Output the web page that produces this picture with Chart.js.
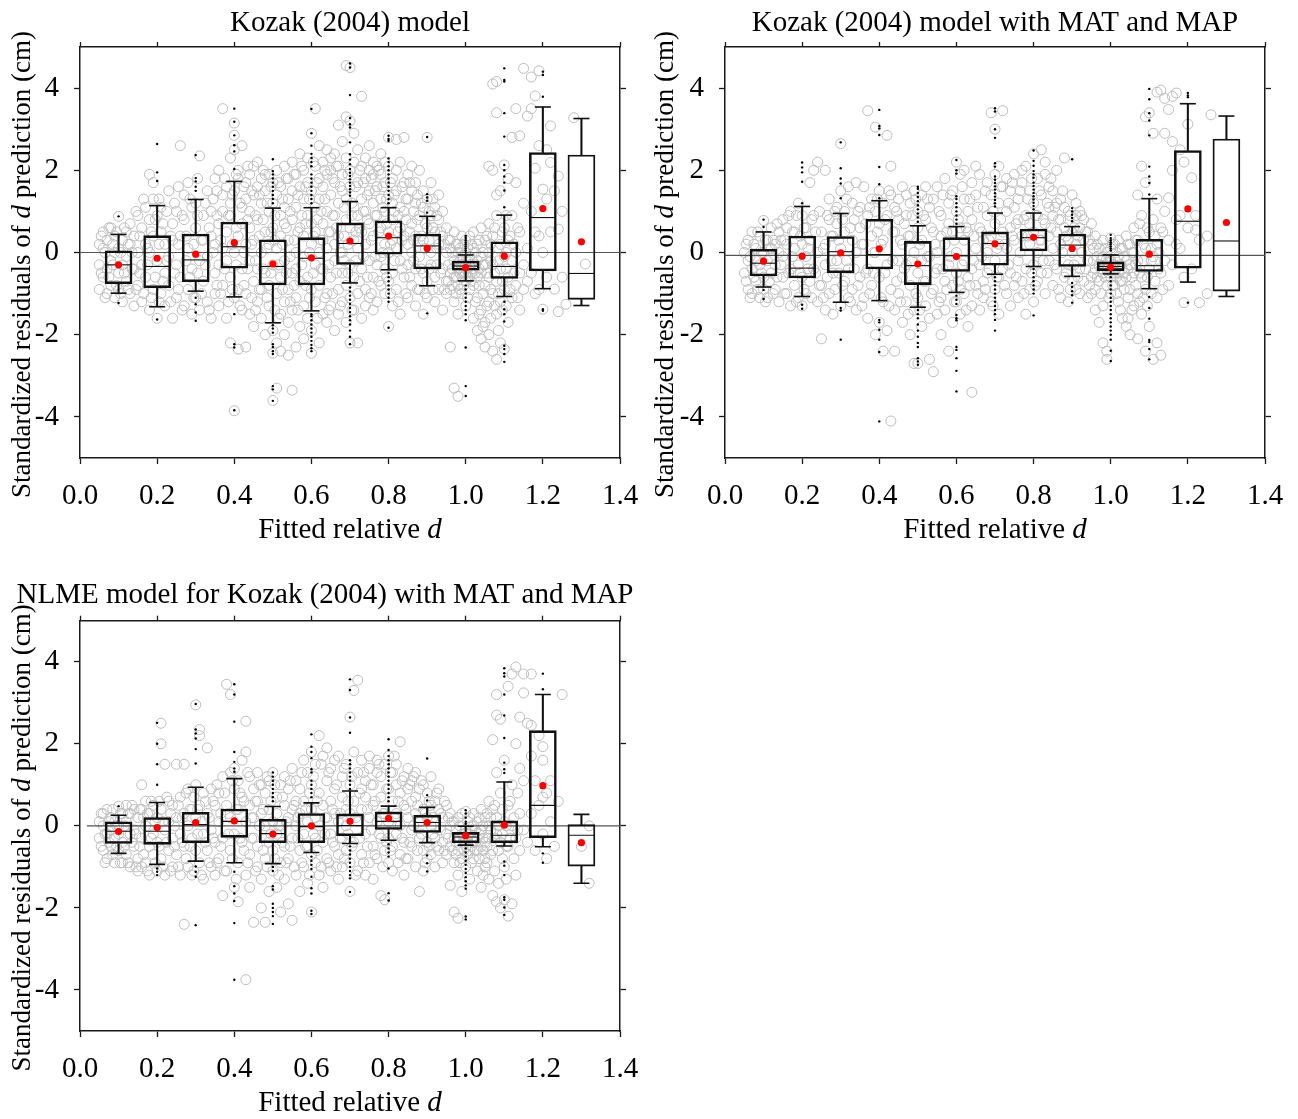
<!DOCTYPE html>
<html>
<head>
<meta charset="utf-8">
<script src="https://cdn.jsdelivr.net/npm/chart.js@4.4.1/dist/chart.umd.min.js"></script>
<style>
  body { margin: 0; background: #fff; }
  canvas { position: absolute; }
</style>
</head>
<body>
<canvas id="c1" width="640" height="550" style="left:0;top:0"></canvas>
<canvas id="c2" width="653" height="550" style="left:645px;top:0"></canvas>
<canvas id="c3" width="650" height="549" style="left:0;top:570px"></canvas>
<script>
// bin centres of the box plots and the axis ticks
const bins = [0.1, 0.2, 0.3, 0.4, 0.5, 0.6, 0.7, 0.8, 0.9, 1.0, 1.1, 1.2, 1.3];
const xTicks = [0, 0.2, 0.4, 0.6, 0.8, 1.0, 1.2, 1.4];
const yTicks = [-4, -2, 0, 2, 4];

// ---- panel 1: Kozak (2004) model ----
const p1Lo   = [-0.99, -1.32, -0.94, -1.08, -1.71, -1.42, -0.74, -0.42, -0.81, -0.69, -1.07, -0.88, -1.29];
const p1Q1   = [-0.76, -0.86, -0.71, -0.38, -0.79, -0.79, -0.29, -0.04, -0.40, -0.43, -0.63, -0.45, -1.14];
const p1Med  = [-0.30, -0.34, -0.18, 0.14, -0.34, -0.14, 0.22, 0.36, 0.16, -0.33, -0.34, 0.85, -0.51];
const p1Q3   = [0.04, 0.41, 0.45, 0.74, 0.31, 0.36, 0.72, 0.77, 0.45, -0.21, 0.26, 2.43, 2.37];
const p1Hi   = [0.44, 1.14, 1.29, 1.73, 1.08, 1.09, 1.24, 1.09, 0.88, -0.06, 0.91, 3.54, 3.26];
const p1Mean = [-0.30, -0.14, -0.04, 0.24, -0.28, -0.13, 0.28, 0.40, 0.10, -0.37, -0.09, 1.07, 0.26];
const p1Out = [
  [0.88, -1.23],
  [2.64, 1.95, 1.74, -1.63],
  [2.37, 1.81, 1.73, 1.6, 1.5, -1.1, -1.26, -1.46, -1.66],
  [3.5, 3.18, 2.85, 2.61, 2.46, 2.03, -1.5, -2.23, -2.31, -3.84],
  [2.27, 1.98, 1.9, 1.8, 1.7, 1.6, 1.5, 1.4, 1.3, 1.2, -1.77, -1.85, -1.95, -2.23, -2.3, -2.4, -2.47, -3.25, -3.33, -3.61],
  [3.49, 2.9, 2.6, 2.4, 2.3, 2.2, 2.1, 1.9, 1.8, 1.7, 1.6, 1.5, 1.4, 1.3, 1.2, -1.5, -1.55, -1.65, -1.75, -1.85, -1.95, -2.05, -2.15, -2.25, -2.33, -2.4],
  [4.6, 4.5, 3.83, 3.27, 3.12, 3.04, 2.68, 2.39, 2.26, 2.15, 2.03, 1.94, 1.86, 1.78, 1.7, 1.62, 1.54, 1.46, 1.38, -0.85, -0.95, -1.05, -1.15, -1.25, -1.35, -1.45, -1.55, -1.65, -1.75, -1.9, -2.05, -2.23],
  [2.84, 2.76, 2.72, 2.29, 2.2, 2.1, 2.0, 1.9, 1.8, 1.7, 1.6, 1.5, 1.4, 1.3, 1.2, -0.5, -0.6, -0.7, -0.8, -0.9, -1.0, -1.1, -1.2, -1.83],
  [2.81, 1.42, 1.34, 1.26, 0.97, -1.48],
  [0.4, 0.35, 0.3, 0.25, 0.2, 0.15, 0.1, 0.05, 0.0, -0.8, -0.9, -1.0, -1.1, -1.2, -1.3, -1.4, -1.5, -1.65, -2.31, -3.25, -3.49],
  [4.48, 4.2, 4.16, 3.39, 2.82, 2.13, 2.0, 1.85, 1.7, 1.51, 1.1, -1.2, -1.38, -1.5, -1.68, -2.27, -2.35, -2.47, -2.66],
  [4.4, 4.32, 3.79, -1.38, -1.42],
  []
];
// residual circles, one column per fitted value: [x, y, y, ...]
const p1Cols = [
  [0.05,-0.9,-0.3,0.2],[0.06,-0.6,0.1,0.5],[0.07,-1.0,-0.4,0.3],[0.08,-0.2,0.6,-0.8],[0.09,-1.1,0.0,0.4],
  [0.10,0.88,-0.5,0.1,-0.9],[0.11,-0.3,0.3,-1.2],[0.12,-0.7,0.5,-0.1],[0.13,-1.0,0.2,0.7],[0.14,-0.4,-1.3,0.4],
  [0.15,0.0,-0.8,0.9],[0.16,-1.2,0.6,-0.3],[0.17,1.1,-0.6,0.2],[0.18,-1.4,0.0,0.8,1.9],[0.19,-0.9,0.4,1.3,1.7],
  [0.20,-0.2,-1.6,0.9],[0.21,0.5,-1.0,1.1],[0.22,-0.5,0.2,-1.3],[0.23,1.5,-0.1,-0.8],[0.24,0.7,-1.6,0.3],
  [0.25,-1.1,1.0,-0.3],[0.26,2.6,0.4,-0.6],[0.27,-1.3,0.8,1.4],[0.28,0.1,-0.9,1.7],[0.29,-0.4,1.1,-1.5],
  [0.30,0.6,-1.1,1.2],[0.31,2.35,-0.2,-1.4],[0.32,0.9,-0.7,0.3],[0.33,1.5,-1.2,-0.1],[0.34,0.4,-1.6,1.0],
  [0.35,1.8,-0.5,-1.0,0.2],[0.36,2.0,0.7,-1.3,-0.3],[0.37,1.4,-0.8,0.1,1.0,3.5],[0.38,-1.6,0.5,1.6,-0.2],
  [0.39,2.3,1.2,-2.2,-0.6,0.9],[0.40,-3.85,3.15,2.85,2.5,0.0,-1.1,1.5],[0.41,-2.35,1.8,0.4,-0.9,2.0],
  [0.42,2.6,1.1,-0.4,-1.4,0.7],[0.43,-2.3,1.7,0.2,-1.0,1.3],[0.44,-1.5,0.6,1.9,-0.2,1.0],
  [0.45,2.1,-0.7,0.3,-1.8,1.4],[0.46,1.6,-1.2,0.8,-0.4,2.2],[0.47,0.0,-1.6,1.2,1.8,-0.9],
  [0.48,-2.0,0.5,1.5,-0.5,1.9],[0.49,1.9,-1.3,0.2,-0.8,1.0],[0.50,-3.6,-2.45,1.7,0.6,-0.3,-1.9,1.2],
  [0.51,-3.3,-2.2,2.0,-1.0,0.1,1.4],[0.52,-2.4,1.6,-0.6,0.9,-1.5,0.4],[0.53,2.1,-2.0,1.1,-0.2,-1.2,0.7],
  [0.54,-2.5,1.8,0.3,-0.9,1.3,-1.7],[0.55,-3.35,2.2,-0.5,0.8,-1.4,1.5],[0.56,-2.3,1.9,0.0,-1.1,1.1,-0.4],
  [0.57,2.4,-1.8,0.6,-0.7,1.6],[0.58,-2.1,1.3,-0.1,2.0,-1.3,0.4],[0.59,2.3,-0.6,0.9,-1.6,1.7],
  [0.60,-2.45,2.9,1.5,0.2,-0.9,-1.9,0.7],[0.61,3.5,2.1,-0.3,1.1,-1.2,0.5],[0.62,2.6,-2.2,1.8,0.0,-0.8,1.3],
  [0.63,2.2,-1.5,0.7,-0.4,1.6,0.3],[0.64,2.5,-1.0,1.9,0.1,-1.7,1.0],[0.65,2.0,-0.6,1.4,0.5,-1.3,2.3],
  [0.66,2.4,-1.9,0.9,-0.2,1.7,0.2],[0.67,3.1,1.2,-0.9,0.4,2.1,-1.5],[0.68,2.7,-0.5,1.5,0.0,-1.2,1.9],
  [0.69,4.55,3.3,2.3,0.8,-0.8,1.3,-1.7],[0.70,4.5,3.2,2.0,0.6,-0.3,-1.1,1.6,-2.2],[0.71,2.9,1.1,-0.6,0.3,2.2,-1.4],
  [0.72,2.5,-2.2,1.7,0.1,-1.0,0.9],[0.73,3.8,2.1,-0.4,1.3,0.5,-1.6],[0.74,2.3,1.8,-0.9,0.2,1.0,-1.3],
  [0.75,2.6,-0.2,1.5,0.7,-1.1,2.0],[0.76,1.9,-1.4,0.4,1.2,-0.6,2.2],[0.77,2.1,0.9,-0.3,1.6,-1.2],
  [0.78,2.4,-0.8,0.6,1.3,-0.1,1.9],[0.79,1.7,-1.0,0.2,1.0,2.2,-0.4],[0.80,2.8,2.1,-1.8,0.5,1.4,-0.7,0.0],
  [0.81,1.8,-1.3,0.8,0.3,1.2,-0.5],[0.82,2.75,2.0,0.1,-0.9,1.5],[0.83,2.2,-0.2,0.6,1.1,-1.5],
  [0.84,2.8,1.7,-0.6,0.4,1.0],[0.85,1.9,-1.1,0.2,1.3,-0.3],[0.86,1.5,-0.8,0.7,0.0,2.1],
  [0.87,1.2,-1.3,0.4,-0.4,1.7],[0.88,2.0,-0.1,0.9,-0.9],[0.89,1.5,-1.5,0.3,-0.5,1.1],
  [0.90,2.8,1.3,-0.7,0.6,-1.1],[0.91,1.7,0.0,-0.3,0.9],[0.92,1.1,-1.2,0.5,-0.6],[0.93,0.8,-0.9,0.2,1.4],
  [0.94,0.4,-0.4,-1.4,1.0],[0.95,0.6,-0.7,0.0,-1.0],[0.96,-2.3,0.3,-0.5,-0.9,0.1],[0.97,-3.3,0.5,-0.2,-0.6,-1.2],
  [0.98,-3.5,0.2,-0.4,-0.8,0.0,-1.5],[0.99,0.4,-0.3,-0.1,-0.6,-1.0],[1.00,0.3,-0.2,-0.4,-0.5,0.0,-0.7,-1.3],
  [1.01,0.4,-0.3,-0.1,-0.6,-0.9],[1.02,0.5,0.1,-0.4,-0.8,-1.6],[1.03,0.2,-0.2,-0.6,-1.1,-1.9],
  [1.04,0.6,-0.1,-0.5,-1.4,-2.1],[1.05,0.3,-0.3,-0.8,-1.7,-2.3],[1.06,2.1,0.7,0.0,-0.6,-1.2,-2.0],
  [1.07,4.1,2.0,0.4,-0.3,-1.0,-2.4],[1.08,4.16,3.4,1.4,0.9,-0.7,-1.5,-2.6],[1.09,1.5,0.2,-0.4,-2.2,-1.2],
  [1.10,2.13,0.6,-0.1,-0.9,-2.35],[1.11,1.8,0.3,-0.6,-1.7],[1.12,2.8,0.9,-0.2,-1.1],[1.13,3.5,1.7,0.0,-0.8],
  [1.14,2.84,0.5,-0.5,-1.4],[1.15,4.48,1.2,-0.3,-0.9],[1.16,3.32,0.1,-0.7],[1.17,4.27,3.5,1.0,-0.5],
  [1.18,3.81,2.05,0.5,-1.0],[1.19,4.42,2.6,0.4,-0.9],[1.20,1.54,-1.38,0.0],[1.21,2.5,1.3,-0.6],
  [1.22,3.08,2.19,0.5],[1.23,-0.89,1.5],[1.24,1.86,0.57,-1.44],[1.25,-0.6,1.0],[1.26,-1.26],[1.28,3.28],[1.31,-0.28]
];
// denser core of the same cloud, between the columns above
const p1Core = [
  [0.055,-0.5,0.4],[0.065,-1.1,0.0],[0.075,0.6,-0.6],[0.085,-0.3,0.2],[0.095,-0.8,0.5],
  [0.105,0.0,-1.0],[0.115,0.6,-0.5],[0.125,-0.9,0.2],[0.135,0.0,-0.4],[0.145,1.0,-0.9],
  [0.155,-0.5,0.4],[0.165,-1.0,1.3],[0.175,0.1,-0.3],[0.185,-1.1,0.5],[0.195,0.8,-0.6],
  [0.205,0.2,-1.2,1.3],[0.215,-0.7,0.7],[0.225,1.0,-0.2],[0.235,-1.2,0.4],[0.245,1.2,-0.5],
  [0.255,-0.9,0.2,1.6],[0.265,0.9,-1.4],[0.275,-0.2,0.4],[0.285,1.3,-0.6],[0.295,0.2,-1.1],
  [0.305,-0.5,0.9,1.8],[0.315,0.3,-1.0],[0.325,1.2,-0.3],[0.335,-1.4,0.6],[0.345,0.0,1.3],
  [0.355,-0.8,0.9,1.5],[0.365,0.3,-1.0],[0.375,-0.4,1.8],[0.385,0.9,-1.2],[0.395,0.2,-0.9,1.4],
  [0.405,0.6,-0.3,1.9],[0.415,-1.3,1.2],[0.425,0.0,1.6,-0.8],[0.435,0.8,-0.4,2.1],[0.445,-1.1,0.2,1.5],
  [0.455,0.9,-0.2,-1.4],[0.465,0.4,1.4,-0.9],[0.475,-0.4,0.8,2.0],[0.485,-1.1,0.1,1.2],[0.495,0.5,-0.5,1.6],
  [0.505,-1.4,0.3,0.9],[0.515,-0.3,1.7,-1.6],[0.525,0.2,-0.9,1.3],[0.535,0.6,-0.5,1.8],[0.545,-1.2,-0.1,1.0],
  [0.555,0.3,1.9,-0.8],[0.565,-1.4,0.5,1.4],[0.575,-0.3,0.9,2.1],[0.585,0.7,-0.8,1.6],[0.595,-1.1,0.0,1.3],
  [0.605,0.4,-0.5,2.2],[0.615,-1.6,0.8,1.7],[0.625,0.3,-0.4,1.0],[0.635,-1.1,1.3,2.0],[0.645,0.5,-0.3,-1.4],
  [0.655,0.9,-1.0,1.8],[0.665,-0.5,0.6,2.1],[0.675,0.0,-1.3,1.6],[0.685,0.4,-0.2,1.1],[0.695,1.9,-0.5,0.2],
  [0.705,1.2,-1.4,0.9],[0.715,-0.2,1.6,0.5],[0.725,0.6,-0.7,2.0],[0.735,1.0,-0.1,1.7],[0.745,-0.6,0.8,1.4],
  [0.755,0.3,-1.0,1.8],[0.765,0.9,-0.1,1.5],[0.775,-0.7,0.5,2.0],[0.785,1.1,0.0,1.6],[0.795,-0.6,0.7,1.3],
  [0.805,0.2,-1.0,1.7],[0.815,1.0,-0.2,1.4],[0.825,0.5,-1.2,0.9],[0.835,1.6,-0.4,0.3],[0.845,0.8,-1.0,1.3],
  [0.855,0.5,-0.6,1.7],[0.865,-0.2,1.0,0.3],[0.875,0.8,-0.9,1.4],[0.885,0.4,-0.4,1.2],[0.895,-1.0,0.1,0.7],
  [0.905,0.3,-0.4,1.0],[0.915,-0.9,0.6,1.3],[0.925,0.1,-0.3,0.9],[0.935,-0.5,0.5],[0.945,-0.9,0.2],
  [0.955,-0.3,0.3,-0.7],[0.965,0.0,-0.4,-0.8],[0.975,0.2,-0.3,-0.6,-1.0],[0.985,0.1,-0.5,-0.2,-0.9],[0.995,0.2,-0.3,-0.5,-0.8],
  [1.005,0.1,-0.2,-0.4,-0.6,-1.1],[1.015,0.2,-0.3,-0.5,-0.7],[1.025,0.0,-0.3,-0.5,-1.2],[1.035,0.3,-0.4,-0.8,-1.5],[1.045,0.0,-0.3,-1.0,-1.8],
  [1.055,0.4,-0.5,-1.3],[1.065,-0.2,0.2,-0.9,-1.6],[1.075,0.6,-0.5,-1.3],[1.085,0.1,-0.2,-1.0,-1.9],[1.095,0.5,-0.7,-1.4],
  [1.105,0.9,0.0,-0.4,-1.3],[1.115,0.4,-0.9],[1.125,-0.5,0.2],[1.135,0.6,-1.1]
];

// ---- panel 2: Kozak (2004) model with MAT and MAP ----
const p2Lo   = [-0.84, -1.07, -1.21, -1.17, -1.33, -0.97, -0.53, -0.34, -0.58, -0.52, -0.88, -0.72, -1.07];
const p2Q1   = [-0.57, -0.62, -0.49, -0.40, -0.78, -0.46, -0.31, 0.04, -0.34, -0.44, -0.46, -0.38, -0.94];
const p2Med  = [-0.26, -0.38, 0.02, -0.05, -0.32, -0.08, 0.22, 0.36, 0.18, -0.34, -0.32, 0.76, 0.28];
const p2Q3   = [0.08, 0.40, 0.39, 0.81, 0.27, 0.36, 0.50, 0.57, 0.45, -0.23, 0.32, 2.48, 2.76];
const p2Hi   = [0.50, 1.12, 0.95, 1.26, 0.65, 0.63, 0.96, 0.96, 0.63, -0.06, 1.31, 3.62, 3.32];
const p2Mean = [-0.21, -0.09, -0.01, 0.09, -0.28, -0.10, 0.21, 0.37, 0.10, -0.36, -0.04, 1.06, 0.73];
const p2Out = [
  [0.8, 0.62, -0.91, -1.13],
  [2.19, 2.07, 1.95, 1.72, 1.2, -1.27, -1.37],
  [2.68, 2.05, 1.8, 1.68, 1.32, -1.35, -1.41, -2.12],
  [3.47, 3.08, 3.02, 2.86, 2.08, 1.66, 1.32, -1.64, -1.7, -1.88, -2.12, -2.42, -4.11],
  [1.6, 1.55, 1.45, 1.35, 1.25, 1.15, 1.05, 0.95, 0.85, 0.75, -1.4, -1.5, -1.6, -1.75, -1.9, -2.05, -2.2, -2.3, -2.57, -2.65, -2.73],
  [2.25, 2.0, 1.92, 1.37, 1.3, 1.2, 1.1, 1.0, 0.9, 0.8, 0.7, -1.05, -1.15, -1.25, -1.52, -1.6, -1.65, -2.3, -2.37, -2.57, -2.88, -3.38],
  [3.51, 3.43, 3.0, 2.79, 2.17, 2.09, 1.85, 1.77, 1.69, 1.61, 1.53, 1.44, 1.36, 1.28, 1.2, 1.12, -0.6, -0.7, -0.8, -0.9, -1.0, -1.1, -1.2, -1.3, -1.4, -1.5, -1.64, -1.9],
  [2.48, 2.23, 2.11, 1.98, 1.9, 1.82, 1.7, 1.62, 1.53, 1.45, 1.37, 1.29, 1.21, 1.13, 1.05, -0.4, -0.5, -0.6, -0.7, -0.8, -0.9, -1.0, -1.53],
  [2.27, 1.08, 1.0, 0.92, 0.84, 0.76, -0.74, -0.84, -0.94, -1.04, -1.22],
  [0.43, 0.35, 0.3, 0.25, 0.2, 0.15, 0.1, 0.05, -0.6, -0.7, -0.8, -0.9, -1.0, -1.1, -1.2, -1.3, -1.4, -1.5, -1.6, -1.7, -1.8, -1.9, -2.0, -2.12, -2.39, -2.64],
  [3.98, 3.73, 3.39, 3.21, 2.85, 2.09, 1.85, 1.69, 1.41, -1.08, -1.35, -1.61, -2.13, -2.18, -2.35, -2.6],
  [3.88, 3.82, 3.78, -1.22],
  []
];
const p2Cols = [
  [0.05,-0.5,0.0],[0.06,-0.9,0.3,-0.2],[0.07,-0.4,0.5,-1.0],[0.08,0.1,-0.7,-0.2],[0.09,-1.1,0.4,-0.3],
  [0.10,0.78,-0.6,0.0,-0.9],[0.11,-0.2,0.3,-1.1],[0.12,0.6,-0.5,0.1],[0.13,-0.9,0.2,-0.3],[0.14,0.5,-1.2,0.0],
  [0.15,-0.6,0.8,-0.1],[0.16,0.2,-1.0,0.6],[0.17,-0.4,1.0,-1.3],[0.18,0.1,-0.8,0.5],[0.19,1.2,-0.3,-1.1],
  [0.20,0.9,-0.6,0.2,-1.3],[0.21,-0.1,0.6,-1.0],[0.22,1.7,0.3,-0.7],[0.23,2.0,-0.4,0.9],[0.24,2.2,0.0,-1.2],
  [0.25,-2.1,0.5,-0.8],[0.26,2.0,0.2,-0.3,-1.4],[0.27,0.8,-1.0,1.3],[0.28,-0.5,0.4,-1.5],[0.29,1.1,-0.2,0.7],
  [0.30,2.65,-1.3,0.1,1.5],[0.31,0.5,-0.7,1.0],[0.32,1.6,-0.4,-1.1],[0.33,0.3,-0.9,1.2],[0.34,1.7,0.0,-1.4],
  [0.35,0.6,-0.6,1.1],[0.36,-1.1,0.2,1.6],[0.37,3.45,0.9,-0.4,-1.6],[0.38,1.3,-0.8,0.4],[0.39,3.05,-2.0,0.0,1.0],
  [0.40,-1.7,0.7,-0.6,1.5],[0.41,-2.4,1.2,-1.2,0.3],[0.42,2.85,-0.3,0.9,-1.9],[0.43,-4.1,2.1,1.4,-0.9],
  [0.44,0.5,-1.4,1.1,-2.4],[0.45,1.3,-0.2,0.8,-1.0],[0.46,1.6,-1.7,0.2,-0.6],[0.47,0.9,-1.2,1.4,-0.3],
  [0.48,1.2,-2.0,0.4,-0.8],[0.49,-2.7,1.5,-1.4,0.0],[0.50,-2.7,1.0,-0.5,0.6,-1.1],[0.51,1.4,-1.8,0.3,-0.2],
  [0.52,0.8,-1.3,1.6,-0.7],[0.53,-2.6,1.1,-0.1,-1.6],[0.54,-2.9,0.5,1.3,-0.9],[0.55,1.6,-1.5,0.0,-0.4],
  [0.56,-2.0,0.9,-1.1,0.4],[0.57,1.8,-0.7,0.2,-1.4],[0.58,-2.4,1.2,-0.3,0.7],[0.59,1.5,-1.7,0.5,-0.8],
  [0.60,2.2,-1.2,0.0,1.0,-0.5],[0.61,1.9,-0.9,0.6,-1.5],[0.62,2.0,1.3,-0.2,0.3,-1.0],[0.63,1.0,-1.8,0.5,-0.6],
  [0.64,-3.4,1.7,-0.4,0.8,-1.3],[0.65,1.4,0.1,-0.8,2.1],[0.66,1.9,-1.4,0.6,-0.3],[0.67,1.1,-0.7,0.3,-1.1],
  [0.68,1.7,0.0,-0.5,0.9],[0.69,3.4,1.4,-1.2,0.4],[0.70,3.0,1.9,-0.9,0.7,-0.2],[0.71,2.1,1.2,-0.6,0.2,-1.5],
  [0.72,3.45,1.6,0.5,-0.4],[0.73,1.0,-1.0,0.1,1.8],[0.74,1.5,-0.5,0.6,-1.3],[0.75,1.9,0.3,-0.8,1.1],
  [0.76,1.3,-0.2,0.8,-1.1],[0.77,1.7,-0.7,0.4,2.0],[0.78,2.1,0.9,-0.4,-1.5],[0.79,1.5,0.2,-0.9,0.7],
  [0.80,2.4,1.2,-0.3,0.5,-1.2],[0.81,1.8,0.0,0.9,-0.7],[0.82,2.5,1.4,-0.5,0.3],[0.83,2.2,0.7,-1.0,1.9],
  [0.84,1.1,-0.2,0.4,1.6],[0.85,1.5,-0.8,0.1,0.9],[0.86,2.0,0.5,-0.4,1.2],[0.87,1.3,-1.1,0.2,0.8],
  [0.88,2.3,0.6,-0.6,1.1],[0.89,1.0,-0.3,0.3,-1.2],[0.90,1.4,0.5,-0.7,0.0],[0.91,0.9,-0.9,0.2,1.2],
  [0.92,0.6,-0.4,1.0,-1.0],[0.93,0.3,-0.7,0.8],[0.94,0.5,-0.2,-1.1],[0.95,0.2,-0.6,0.7,-1.0],
  [0.96,0.4,-0.4,-0.9,-1.4],[0.97,0.1,-0.3,-0.7,-1.7],[0.98,0.3,-0.5,-0.1,-1.3,-2.2],[0.99,0.0,-0.4,-0.8,-2.4,-2.6],
  [1.00,0.35,-0.2,-0.4,-0.6,0.1,-1.0],[1.01,0.2,-0.3,-0.5,-0.8],[1.02,0.3,-0.1,-0.5,-1.2],[1.03,0.1,-0.4,-0.7,-1.6],
  [1.04,0.4,-0.2,-0.6,-1.8],[1.05,0.2,-0.3,-0.9,-2.0],[1.06,0.6,0.0,-0.5,-1.3],[1.07,1.4,0.3,-0.2,-1.0,-2.1],
  [1.08,2.1,0.9,-0.6,-1.5],[1.09,3.3,1.7,0.1,-0.9,-2.4],[1.10,3.4,0.5,-0.4,-1.8],[1.11,2.9,0.8,-0.1,-2.6],
  [1.12,3.9,1.3,0.2,-1.1,-2.2],[1.13,3.95,0.6,-0.5,-2.5],[1.14,3.75,2.9,1.0,-0.2],[1.15,3.48,1.33,0.3,-0.8],
  [1.16,3.8,2.7,2.0,-0.3],[1.17,3.88,0.8,0.2],[1.18,0.1,2.5,0.9],[1.19,2.2,-1.22,-0.6],[1.20,3.12,0.6],
  [1.21,1.82,-0.4],[1.22,0.55,0.9],[1.23,-1.22,0.3],[1.25,-1.0,0.4],[1.26,3.35]
];
const p2Core = [
  [0.055,-0.7,0.2],[0.065,-0.1,-1.1],[0.075,0.2,-0.6],[0.085,-0.9,0.5],[0.095,0.0,-0.5],
  [0.105,0.3,-1.2],[0.115,-0.7,0.1],[0.125,-1.0,0.3],[0.135,0.7,-0.6],[0.145,-0.3,0.3],
  [0.155,-1.0,0.3],[0.165,0.9,-0.5],[0.175,-0.1,0.5],[0.185,-1.2,0.9],[0.195,0.4,-0.5],
  [0.205,-0.9,0.6],[0.215,0.1,-0.4],[0.225,-1.1,0.8],[0.235,0.5,-0.5],[0.245,-0.8,1.0],
  [0.255,0.1,-1.1],[0.265,0.9,-0.6],[0.275,-0.2,0.4],[0.285,1.0,-0.9],[0.295,0.3,-0.5],
  [0.305,-0.8,0.8],[0.315,-0.2,1.3],[0.325,0.6,-1.2],[0.335,-0.4,0.8],[0.345,1.0,-0.8],
  [0.355,0.2,-1.3],[0.365,-0.5,0.7],[0.375,1.1,-1.0],[0.385,0.0,-0.5],[0.395,0.5,1.3],
  [0.405,-1.1,0.2],[0.415,0.8,-0.5],[0.425,1.5,-1.3],[0.435,-0.2,0.5],[0.445,1.0,-0.7],
  [0.455,-1.2,0.3],[0.465,0.7,-0.4],[0.475,-1.5,0.4],[0.485,0.9,-0.2],[0.495,-1.0,1.3],
  [0.505,0.2,-1.4],[0.515,0.9,-0.7],[0.525,-0.1,1.3],[0.535,-1.0,0.6],[0.545,0.2,-0.5],
  [0.555,1.0,-1.2],[0.565,-0.4,1.4],[0.575,0.5,-0.9],[0.585,1.4,-0.1],[0.595,-1.2,0.3],
  [0.605,0.8,-0.7],[0.615,-0.3,1.6],[0.625,0.6,-1.4],[0.635,-0.8,1.3],[0.645,0.4,-0.2],
  [0.655,1.1,-1.0],[0.665,-0.1,0.5],[0.675,1.5,-0.9],[0.685,0.3,-0.4],[0.695,1.0,-1.3],
  [0.705,0.1,-0.6],[0.715,1.6,0.8],[0.725,-0.8,0.2],[0.735,1.2,-0.3],[0.745,0.4,1.7],
  [0.755,-0.6,0.7],[0.765,1.5,0.0],[0.775,-1.0,0.8],[0.785,0.4,1.3],[0.795,-0.5,1.8],
  [0.805,0.9,-0.8],[0.815,0.3,1.5],[0.825,-0.2,0.8],[0.835,1.2,-0.5],[0.845,0.6,1.8],
  [0.855,-0.3,1.1],[0.865,0.8,-0.9],[0.875,0.0,1.5],[0.885,0.4,-0.5],[0.895,0.9,-0.9],
  [0.905,-0.3,0.6],[0.915,0.4,-0.6],[0.925,0.0,0.9],[0.935,-0.4,0.5],[0.945,0.3,-0.8],
  [0.955,-0.2,0.1,-0.5],[0.965,0.2,-0.6,-0.1],[0.975,-0.2,-0.4,-1.0],[0.985,0.1,-0.3,-0.6],[0.995,-0.2,-0.5,-1.1],
  [1.005,0.2,-0.3,-0.5,-0.8],[1.015,0.0,-0.4,-0.6,-1.0],[1.025,0.1,-0.3,-0.7,-1.4],[1.035,-0.1,-0.5,-0.9],[1.045,0.2,-0.4,-1.1,-1.6],
  [1.055,0.0,-0.6,-1.4],[1.065,0.3,-0.3,-0.8],[1.075,0.7,-0.5,-1.2],[1.085,0.2,-0.2,-1.1],[1.095,0.6,-0.6,-1.3],
  [1.105,0.1,-0.2,-1.0],[1.115,0.4,-0.7],[1.125,0.0,-0.4],[1.135,0.5,-0.9]
];

// ---- panel 3: NLME model for Kozak (2004) with MAT and MAP ----
const p3Lo   = [-0.67, -0.94, -0.86, -0.90, -0.92, -0.65, -0.43, -0.35, -0.41, -0.47, -0.49, -0.51, -1.40];
const p3Q1   = [-0.43, -0.45, -0.41, -0.28, -0.41, -0.41, -0.24, -0.09, -0.16, -0.41, -0.41, -0.29, -0.98];
const p3Med  = [-0.13, -0.13, 0.03, 0.11, -0.19, -0.02, 0.01, 0.11, 0.08, -0.27, -0.23, 0.50, -0.23];
const p3Q3   = [0.10, 0.20, 0.33, 0.41, 0.16, 0.30, 0.29, 0.34, 0.26, -0.16, 0.12, 2.32, 0.03];
const p3Hi   = [0.26, 0.57, 0.94, 1.15, 0.47, 0.56, 0.85, 0.48, 0.45, -0.01, 1.07, 3.20, 0.28];
const p3Mean = [-0.14, -0.04, 0.08, 0.12, -0.20, 0.00, 0.11, 0.18, 0.08, -0.24, 0.02, 0.98, -0.41];
const p3Out = [
  [0.48],
  [2.51, 2.0, 1.5, 1.0, -1.04, -1.12, -1.2],
  [2.97, 2.35, 2.25, 2.13, 1.87, 1.52, -0.99, -1.12, -1.24, -2.42],
  [3.45, 3.2, 2.54, 1.8, 1.56, 1.4, 1.32, -1.12, -1.47, -1.65, -1.83, -2.37, -3.75],
  [1.3, 1.2, 1.1, 1.0, 0.9, 0.8, 0.7, 0.6, -1.0, -1.1, -1.47, -1.55, -1.9, -2.0, -2.1, -2.2, -2.39],
  [2.23, 1.93, 1.8, 1.65, 1.38, 1.3, 1.1, 1.0, 0.9, 0.8, 0.7, -0.75, -0.85, -0.95, -1.05, -1.24, -1.52, -1.65, -2.07, -2.15],
  [3.57, 3.31, 2.64, 2.27, 1.6, 1.5, 1.4, 1.3, 1.2, 1.1, 1.0, 0.9, -0.5, -0.6, -0.7, -0.8, -0.9, -1.0, -1.1, -1.2, -1.28, -1.61],
  [2.11, 1.85, 1.7, 1.6, 1.5, 1.4, 1.3, 1.2, 1.1, 1.0, 0.9, 0.8, 0.7, 0.6, -0.45, -0.55, -0.65, -0.75, -1.04, -1.64, -1.82],
  [1.64, 0.75, 0.62, -0.72, -0.91, -1.11],
  [0.38, 0.3, 0.2, 0.1, 0.05, -0.55, -0.65, -0.75, -0.85, -0.95, -1.05, -1.15, -1.25, -1.35, -1.45, -1.53, -2.21, -2.28],
  [3.84, 3.72, 3.64, 3.2, 2.69, 2.14, 1.54, 1.38, 1.29, -0.87, -0.97, -1.2, -1.74, -1.8, -1.99, -2.17],
  [3.71, 3.33, -0.67, -0.9],
  []
];
const p3Cols = [
  [0.05,-0.3,0.1],[0.06,-0.6,0.0,0.3],[0.07,-0.2,-0.8,0.4],[0.08,0.2,-0.5,-0.1],[0.09,-0.9,0.1,-0.3],
  [0.10,0.48,-0.6,0.0,-0.2],[0.11,-0.4,0.3,-0.9],[0.12,0.1,-0.7,0.5],[0.13,-0.2,-1.0,0.3],[0.14,0.4,-0.5,-0.1],
  [0.15,-0.8,0.2,-1.1],[0.16,1.0,-0.3,0.4,-1.0],[0.17,0.0,-0.9,0.6],[0.18,-0.5,0.3,-1.2],[0.19,0.5,-0.2,-0.7],
  [0.20,0.2,-1.1,-0.4],[0.21,2.5,2.0,0.4,-0.8],[0.22,1.5,-0.1,-1.2],[0.23,0.6,-0.6,0.1],[0.24,-0.3,0.5,-1.0],
  [0.25,1.5,0.2,-0.7],[0.26,-1.2,0.7,-0.2],[0.27,-2.4,0.3,-0.5,1.5],[0.28,0.9,-1.0,0.0],[0.29,0.4,-0.3,-1.2],
  [0.30,2.95,1.0,-0.6,0.2],[0.31,2.35,2.2,-0.9,0.5],[0.32,-0.2,0.8,-1.3],[0.33,1.9,0.3,-0.6],[0.34,0.9,-1.0,-0.1],
  [0.35,0.5,-0.4,-1.2],[0.36,0.8,-0.8,0.1],[0.37,-1.7,1.2,-0.3],[0.38,3.45,0.5,-1.1],[0.39,3.2,1.3,-0.6,0.2],
  [0.40,-1.5,0.9,-0.2,1.4],[0.41,-1.85,0.4,-0.9,1.1],[0.42,1.6,-0.4,0.7],[0.43,-3.75,2.55,1.8,-1.2,0.1],
  [0.44,1.2,-0.7,0.5,-1.5],[0.45,-2.35,0.9,-0.3,0.2],[0.46,1.3,-1.0,0.6,-0.5],[0.47,-2.0,0.3,-1.3,1.0],
  [0.48,-2.35,0.8,-0.8,0.0],[0.49,1.1,-0.4,0.4,-1.6],[0.50,1.3,-1.1,0.1,-0.6],[0.51,0.7,-1.5,0.3,-0.2],
  [0.52,-2.1,1.0,-0.9,0.0],[0.53,1.2,-0.5,0.5,-1.3],[0.54,-1.9,0.2,-0.8,0.9],[0.55,-2.3,1.4,-0.3,0.4],
  [0.56,0.6,-1.2,0.0,1.1],[0.57,-1.6,0.9,-0.6,0.3],[0.58,1.6,-0.2,0.6,-1.0],[0.59,1.3,-1.4,0.1,-0.5],
  [0.60,-2.1,1.0,-0.7,0.4,1.8],[0.61,1.5,-0.9,0.2,-0.3],[0.62,2.2,0.8,-1.2,0.0],[0.63,1.7,-0.4,0.5,-1.5],
  [0.64,1.1,-0.8,0.2,1.9],[0.65,1.4,-1.1,0.6,-0.2],[0.66,0.9,-0.5,0.3,1.6],[0.67,1.7,-1.3,0.1,-0.7],
  [0.68,1.2,-0.3,0.7,-1.0],[0.69,1.5,0.4,-0.6,0.0],[0.70,2.65,1.0,-0.9,0.3,-1.6],[0.71,3.3,1.8,-0.4,0.6],
  [0.72,3.55,1.3,0.1,-1.1],[0.73,1.6,-0.7,0.4,0.9],[0.74,1.1,-0.2,0.7,-1.2],[0.75,1.4,-0.9,0.2,1.7],
  [0.76,1.0,-0.5,0.5,-1.3],[0.77,1.6,0.1,-0.8,1.3],[0.78,-1.7,0.7,-0.3,1.2],[0.79,-1.8,1.5,0.3,-0.6],
  [0.80,1.7,0.9,-0.9,0.1,-0.3],[0.81,1.3,-0.5,0.6,-1.1],[0.82,1.0,-0.2,0.3,1.5],[0.83,2.05,0.8,-0.7,0.0],
  [0.84,1.2,-0.4,0.5,-1.2],[0.85,0.9,-0.8,0.2,1.4],[0.86,1.1,-0.1,0.6,-0.5],[0.87,0.7,-1.0,0.3,1.3],
  [0.88,-1.6,0.9,-0.3,0.1],[0.89,1.0,-0.6,0.4,-1.1],[0.90,0.8,-0.4,0.2,-0.8],[0.91,1.2,0.0,-0.7,0.5],
  [0.92,0.6,-0.3,-1.0],[0.93,0.4,-0.6,0.9],[0.94,0.2,-0.4,-0.9],[0.95,0.5,-0.2,-0.7],[0.96,-1.45,0.3,-0.5,0.0],
  [0.97,-2.1,-0.9,0.1,-0.3],[0.98,-2.25,0.2,-0.6,-1.2],[0.99,-0.2,0.3,-0.8,-1.6],[1.00,0.35,-0.3,-0.1,-0.5,-1.0],
  [1.01,0.2,-0.2,-0.6,-1.3],[1.02,0.3,-0.4,0.0,-0.8],[1.03,0.1,-0.3,-0.6,-1.1],[1.04,0.4,-0.1,-0.5,-1.5],
  [1.05,0.2,-0.4,-0.8,-1.0],[1.06,0.6,0.0,-0.3,-1.3],[1.07,2.1,0.4,-0.6,-1.7],[1.08,3.2,2.7,1.3,0.2,-0.2,-1.85],
  [1.09,2.6,0.8,-0.4,-2.0],[1.10,1.6,0.1,-1.0,-1.8],[1.11,3.4,0.5,-0.5,-2.2],[1.12,3.7,1.0,0.0,-1.9],
  [1.13,3.87,2.0,-0.3,-1.2],[1.14,2.65,1.4,0.3,-0.6],[1.15,3.7,3.24,1.1,-0.1],[1.16,2.5,-0.4],
  [1.17,3.7,2.45,1.7,0.3],[1.18,1.1,-0.6],[1.19,2.2,0.5],[1.20,1.93,1.6,0.7,-0.2],[1.21,0.8,-0.8],
  [1.22,0.1,1.1],[1.23,-0.5],[1.24,0.6],[1.25,3.2],[1.30,-0.5],[1.32,-1.4,0.0]
];
const p3Core = [
  [0.055,-0.5,0.3],[0.065,-0.2,-0.9],[0.075,0.1,-0.4],[0.085,-0.7,0.4],[0.095,0.0,-0.5],
  [0.105,0.3,-0.9],[0.115,-0.5,0.0],[0.125,-0.9,0.3],[0.135,0.5,-0.4],[0.145,-0.2,-1.0],
  [0.155,-0.5,0.4],[0.165,0.2,-0.7],[0.175,-1.1,0.3],[0.185,0.6,-0.3],[0.195,-0.9,0.1],
  [0.205,-0.5,0.6],[0.215,0.1,-1.0],[0.225,0.7,-0.4],[0.235,-1.1,0.3],[0.245,0.0,-0.5],
  [0.255,-1.0,0.5],[0.265,0.2,-0.4],[0.275,-0.8,0.8],[0.285,0.4,-0.5],[0.295,-1.1,0.7],
  [0.305,-0.2,0.4],[0.315,-1.2,0.1],[0.325,0.6,-0.4],[0.335,-0.9,0.2],[0.345,0.6,-0.3],
  [0.355,-0.9,1.0],[0.365,0.3,-0.5],[0.375,0.8,-1.1],[0.385,-0.2,0.3],[0.395,1.1,-0.8],
  [0.405,0.4,-1.3],[0.415,-0.3,0.8],[0.425,0.6,-0.6],[0.435,-0.9,1.3],[0.445,0.2,-0.3],
  [0.455,-1.1,0.6],[0.465,0.0,1.0],[0.475,-0.6,0.4],[0.485,1.2,-1.0],[0.495,-0.2,0.6],
  [0.505,-0.8,1.0],[0.515,0.0,-1.2],[0.525,0.7,-0.4],[0.535,-0.9,0.1],[0.545,1.1,-0.5],
  [0.555,-1.0,0.5],[0.565,0.2,-0.3],[0.575,1.3,-0.9],[0.585,-0.5,0.4],[0.595,0.8,-1.2],
  [0.605,-0.2,1.2],[0.615,0.6,-0.6],[0.625,-1.0,1.5],[0.635,0.2,-0.2],[0.645,1.3,-0.9],
  [0.655,-0.4,0.4],[0.665,1.0,-1.0],[0.675,0.3,-0.3],[0.685,1.4,-0.8],[0.695,-0.2,0.6],
  [0.705,1.2,-0.5],[0.715,0.2,-1.2],[0.725,0.8,-0.3],[0.735,1.3,-0.9],[0.745,0.4,-0.5],
  [0.755,-0.1,1.0],[0.765,0.6,-0.7],[0.775,1.5,-0.2],[0.785,0.3,-1.0],[0.795,0.9,-0.4],
  [0.805,1.3,-0.6],[0.815,0.2,1.7],[0.825,-0.9,0.6],[0.835,1.1,-0.3],[0.845,0.4,-0.8],
  [0.855,1.0,-0.4],[0.865,0.0,1.2],[0.875,-0.6,0.5],[0.885,1.1,-0.2],[0.895,0.3,-0.9],
  [0.905,-0.5,0.6],[0.915,0.2,-0.2],[0.925,0.8,-0.5],[0.935,-0.1,0.3],[0.945,0.6,-0.6],
  [0.955,-0.3,0.2],[0.965,-0.6,0.1],[0.975,-0.1,-0.4,-0.7],[0.985,0.0,-0.3,-0.9],[0.995,-0.2,-0.4,-0.6],
  [1.005,0.1,-0.2,-0.4,-0.7],[1.015,0.0,-0.3,-0.5,-0.9],[1.025,-0.1,-0.4,-0.6],[1.035,0.2,-0.2,-0.8],[1.045,0.0,-0.3,-0.6,-1.2],
  [1.055,0.3,-0.5,-0.9],[1.065,-0.1,0.2,-0.7],[1.075,0.5,-0.3,-1.1],[1.085,0.0,-0.6,-1.4],[1.095,0.4,-0.2,-0.8],
  [1.105,0.0,-0.5,-1.3],[1.115,0.6,-0.3],[1.125,0.2,-0.8],[1.135,-0.1,0.8]
];

Chart.defaults.font.family = '"Liberation Serif", "Times New Roman", serif';
Chart.defaults.color = '#000';

function drawRich(ctx, parts, x, y, size, align) {
  const fonts = parts.map(p => `${p[1]} ${size}px "Liberation Serif"`);
  const widths = parts.map((p, i) => { ctx.font = fonts[i]; return ctx.measureText(p[0]).width; });
  let cx = x - (align === 'center' ? widths.reduce((a, b) => a + b, 0) / 2 : 0);
  ctx.textBaseline = 'alphabetic';
  ctx.textAlign = 'left';
  parts.forEach((p, i) => {
    ctx.font = fonts[i];
    ctx.fillText(p[0], cx, y);
    cx += widths[i];
  });
}

// axis titles carry an italic "d", so they are drawn here instead of by the scale titles
const axisTitles = {
  id: 'axisTitles',
  afterDraw(chart, args, opts) {
    const { ctx, chartArea: a } = chart;
    ctx.save();
    ctx.fillStyle = '#000';
    drawRich(ctx, [['Fitted relative ', 'normal'], ['d', 'italic']], (a.left + a.right) / 2, a.bottom + opts.xGap, 29, 'center');
    ctx.translate(opts.yBase, (a.top + a.bottom) / 2 + opts.yShift);
    ctx.rotate(-Math.PI / 2);
    drawRich(ctx, [['Standardized residuals of ', 'normal'], ['d', 'italic'], [' prediction (cm)', 'normal']], 0, 0, 27, 'center');
    ctx.restore();
  }
};

function makePanel(id, title, d, L) {
  const cloud = [];
  d.cols.forEach(c => c.slice(1).forEach(y => cloud.push({ x: c[0], y })));
  const outs = [];
  d.out.forEach((list, i) => list.forEach(y => outs.push({ x: bins[i], y })));
  const setX = s => { s.ticks = xTicks.map(v => ({ value: v })); };
  const setY = s => { s.ticks = yTicks.map(v => ({ value: v })); };
  const axisCol = '#1a1a1a';
  const tickFont = { size: 29 };

  new Chart(document.getElementById(id), {
    type: 'scatter',
    data: {
      datasets: [
        { type: 'scatter', data: cloud, pointRadius: 5, pointBorderWidth: 1,
          pointBorderColor: '#bdbdbd', pointBackgroundColor: 'rgba(0,0,0,0)', order: 10 },
        { type: 'line', data: [{ x: L.lineStart, y: d.ref }, { x: 1.4, y: d.ref }],
          borderColor: '#555', borderWidth: 1.2, pointRadius: 0, order: 9 },
        { type: 'bar', data: bins.map((x, i) => ({ x, y: [d.q1[i], d.q3[i]] })),
          barThickness: 27, grouped: false, borderSkipped: false,
          backgroundColor: 'rgba(0,0,0,0)', borderColor: '#111',
          borderWidth: c => c.dataIndex === bins.length - 1 ? 1.2 : 1.9, order: 5 },
        { type: 'bar', data: bins.map((x, i) => ({ x, y: [d.q3[i], d.hi[i]] })),
          barThickness: 1.4, grouped: false, backgroundColor: '#111', borderWidth: 0, order: 6 },
        { type: 'bar', data: bins.map((x, i) => ({ x, y: [d.lo[i], d.q1[i]] })),
          barThickness: 1.4, grouped: false, backgroundColor: '#111', borderWidth: 0, order: 6 },
        { type: 'scatter', data: bins.flatMap((x, i) => [{ x, y: d.lo[i] }, { x, y: d.hi[i] }]),
          pointStyle: 'line', pointRadius: 8, pointBorderWidth: 1.6, pointBorderColor: '#111', order: 4 },
        { type: 'scatter', data: bins.map((x, i) => ({ x, y: d.med[i] })),
          pointStyle: 'line', pointRadius: 13, pointBorderWidth: 1.1, pointBorderColor: '#111', order: 4 },
        { type: 'scatter', data: outs, pointRadius: 1.2, pointBorderWidth: 0,
          pointBackgroundColor: '#000', order: 3 },
        { type: 'scatter', data: bins.map((x, i) => ({ x, y: d.mean[i] })), pointRadius: 3.6,
          pointBorderWidth: 0, pointBackgroundColor: '#ff0000', order: 1 }
      ].map(ds => Object.assign({ xAxisID: 'x', yAxisID: 'y' }, ds))
    },
    options: {
      responsive: false,
      animation: false,
      devicePixelRatio: 1,
      events: [],
      layout: { padding: 0 },
      scales: {
        x: { type: 'linear', position: 'bottom', min: 0, max: 1.4, offset: false,
             afterBuildTicks: setX,
             afterFit: s => { s.height = L.bottomH; s.paddingLeft = 0; s.paddingRight = 0; },
             ticks: { font: tickFont, color: '#000', padding: 15, maxRotation: 0, autoSkip: false,
                      callback: v => Number(v).toFixed(1) },
             grid: { offset: false, drawOnChartArea: false, tickLength: 6, tickColor: axisCol, tickWidth: 1.3 },
             border: { color: axisCol, width: 1.5 } },
        x2: { type: 'linear', position: 'top', min: 0, max: 1.4, offset: false,
              afterBuildTicks: setX,
              afterFit: s => { s.height = L.topH; s.paddingLeft = 0; s.paddingRight = 0; },
              ticks: { display: false },
              grid: { offset: false, drawOnChartArea: false, tickLength: 5, tickColor: axisCol, tickWidth: 1.3 },
              border: { color: axisCol, width: 1.5 } },
        y: { type: 'linear', position: 'left', min: -5, max: 5,
             afterBuildTicks: setY,
             afterFit: s => { s.width = L.leftW; s.paddingTop = 0; s.paddingBottom = 0; },
             ticks: { font: tickFont, color: '#000', padding: 15, callback: v => String(v) },
             grid: { drawOnChartArea: false, tickLength: 6, tickColor: axisCol, tickWidth: 1.3 },
             border: { color: axisCol, width: 1.5 } },
        y2: { type: 'linear', position: 'right', min: -5, max: 5,
              afterBuildTicks: setY,
              afterFit: s => { s.width = L.rightW; s.paddingTop = 0; s.paddingBottom = 0; },
              ticks: { display: false },
              grid: { drawOnChartArea: false, tickLength: 6, tickColor: axisCol, tickWidth: 1.3 },
              border: { color: axisCol, width: 1.5 } }
      },
      plugins: {
        legend: { display: false },
        tooltip: { enabled: false },
        title: { display: true, text: title, color: '#000', fullSize: L.titleFull,
                 font: { size: 29, weight: 'normal' }, padding: { top: L.titleTop, bottom: 0 } },
        axisTitles: { xGap: 80, yBase: L.yBase, yShift: 12 }
      }
    },
    plugins: [axisTitles]
  });
}

makePanel('c1', 'Kozak (2004) model',
  { lo: p1Lo, q1: p1Q1, med: p1Med, q3: p1Q3, hi: p1Hi, mean: p1Mean, out: p1Out, cols: p1Cols.concat(p1Core), ref: 0 },
  { leftW: 80, rightW: 20, topH: 6.2, bottomH: 92, titleTop: 6, titleFull: false, yBase: 30, lineStart: 0 });

makePanel('c2', 'Kozak (2004) model with MAT and MAP',
  { lo: p2Lo, q1: p2Q1, med: p2Med, q3: p2Q3, hi: p2Hi, mean: p2Mean, out: p2Out, cols: p2Cols.concat(p2Core), ref: -0.07 },
  { leftW: 80, rightW: 33, topH: 6.2, bottomH: 92, titleTop: 6, titleFull: false, yBase: 28, lineStart: 0 });

makePanel('c3', 'NLME model for Kozak (2004) with MAT and MAP',
  { lo: p3Lo, q1: p3Q1, med: p3Med, q3: p3Q3, hi: p3Hi, mean: p3Mean, out: p3Out, cols: p3Cols.concat(p3Core), ref: 0 },
  { leftW: 80, rightW: 30, topH: 8.2, bottomH: 88, titleTop: 7.7, titleFull: true, yBase: 30, lineStart: 0.018 });
</script>
</body>
</html>
